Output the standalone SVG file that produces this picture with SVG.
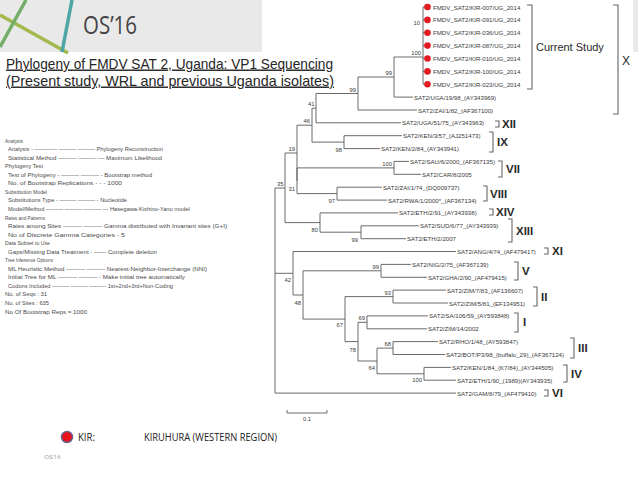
<svg xmlns="http://www.w3.org/2000/svg" width="638" height="479" viewBox="0 0 638 479">
<style>
.tip{font-family:"Liberation Sans",Arial,sans-serif;font-size:6.1px;fill:#3a3a3a;dominant-baseline:central}
.bs{font-family:"Liberation Sans",Arial,sans-serif;font-size:5.8px;fill:#3a3a3a;text-anchor:end}
.br{fill:none;stroke:#5a5a5a;stroke-width:0.9}
.brk{fill:none;stroke:#666;stroke-width:1.1}
.cl{font-family:"Liberation Sans",Arial,sans-serif;font-size:11.5px;font-weight:bold;fill:#2a2a2a;dominant-baseline:central}
.info{font-family:"Liberation Sans",Arial,sans-serif;font-size:6.2px;fill:#4a4a4a;dominant-baseline:central}
.dot{fill:#e31b23}
.ttl{font-family:"Liberation Sans",Arial,sans-serif;font-size:14.5px;fill:#262626;text-decoration:underline}
</style>
<rect x="0" y="0" width="638" height="479" fill="#ffffff"/>
<g id="header">
<rect x="0" y="0" width="262" height="52" fill="#e9e9e9"/>
<rect x="633" y="0" width="5" height="52" fill="#e9e9e9"/>
<line x1="0" y1="15" x2="68" y2="53" stroke="#a3b94e" stroke-width="3.5"/>
<line x1="0" y1="47" x2="26" y2="0" stroke="#74ad68" stroke-width="3.5"/>
<line x1="72" y1="0" x2="62" y2="52" stroke="#4ea7a5" stroke-width="3.5"/>
<text x="83" y="33.5" font-family="'Open Sans','Liberation Sans',sans-serif" font-size="25" fill="#444" textLength="54" lengthAdjust="spacingAndGlyphs">OS’16</text>
</g>
<g id="title">
<text class="ttl" x="6" y="68.5" textLength="327" lengthAdjust="spacingAndGlyphs">Phylogeny of FMDV SAT 2, Uganda: VP1 Sequencing</text>
<text class="ttl" x="6" y="85.5" textLength="328" lengthAdjust="spacingAndGlyphs">(Present study, WRL and previous Uganda isolates)</text>
</g>
<g id="analysis-info">
<text class="info" x="5" y="140" textLength="18" lengthAdjust="spacingAndGlyphs">Analysis</text>
<text class="info" x="8" y="148.5" textLength="155" lengthAdjust="spacingAndGlyphs">Analysis - ———— ——— ——— Phylogeny Reconstruction</text>
<text class="info" x="8" y="157.1" textLength="154" lengthAdjust="spacingAndGlyphs">Statistical Method ——— ——— — Maximum Likelihood</text>
<text class="info" x="5" y="165.6" textLength="38" lengthAdjust="spacingAndGlyphs">Phylogeny Test</text>
<text class="info" x="8" y="174.2" textLength="144" lengthAdjust="spacingAndGlyphs">Test of Phylogeny - ——— ——— - Bootstrap method</text>
<text class="info" x="8" y="182.7" textLength="114" lengthAdjust="spacingAndGlyphs">No. of Bootstrap Replications - - - 1000</text>
<text class="info" x="5" y="191.3" textLength="42" lengthAdjust="spacingAndGlyphs">Substitution Model</text>
<text class="info" x="8" y="199.8" textLength="119" lengthAdjust="spacingAndGlyphs">Substitutions Type - ——— ——— - Nucleotide</text>
<text class="info" x="8" y="208.4" textLength="182" lengthAdjust="spacingAndGlyphs">Model/Method ——— ——— ——— — Hasegawa-Kishino-Yano model</text>
<text class="info" x="5" y="217" textLength="40" lengthAdjust="spacingAndGlyphs">Rates and Patterns</text>
<text class="info" x="8" y="225.5" textLength="219" lengthAdjust="spacingAndGlyphs">Rates among Sites ——— ——— Gamma distributed with Invariant sites (G+I)</text>
<text class="info" x="8" y="234.1" textLength="117" lengthAdjust="spacingAndGlyphs">No of Discrete Gamma Categories - 5</text>
<text class="info" x="5" y="242.6" textLength="45" lengthAdjust="spacingAndGlyphs">Data Subset to Use</text>
<text class="info" x="8" y="251.2" textLength="149" lengthAdjust="spacingAndGlyphs">Gaps/Missing Data Treatment - —— Complete deletion</text>
<text class="info" x="5" y="259.7" textLength="48" lengthAdjust="spacingAndGlyphs">Tree Inference Options</text>
<text class="info" x="8" y="268.3" textLength="199" lengthAdjust="spacingAndGlyphs">ML Heuristic Method ——— ——— Nearest-Neighbor-Interchange (NNI)</text>
<text class="info" x="8" y="276.8" textLength="177" lengthAdjust="spacingAndGlyphs">Initial Tree for ML ——— ——— - Make initial tree automatically</text>
<text class="info" x="8" y="285.4" textLength="165" lengthAdjust="spacingAndGlyphs">Codons Included ——— ——— ——— 1st+2nd+3rd+Non-Coding</text>
<text class="info" x="5" y="293.9" textLength="42" lengthAdjust="spacingAndGlyphs">No. of Seqs : 31</text>
<text class="info" x="5" y="302.5" textLength="44" lengthAdjust="spacingAndGlyphs">No. of Sites : 635</text>
<text class="info" x="5" y="311" textLength="82" lengthAdjust="spacingAndGlyphs">No Of Bootstrap Reps = 1000</text>
</g>
<g id="connectors">
<path class="br" d="M394 57H423 M423 7V84.2 M423 7H427 M423 19.9H427 M423 32.7H427 M423 45.6H427 M423 58.5H427 M423 71.4H427 M423 84.2H427"/>
<path class="br" d="M358 77H394 M394 57V97.1 M394 97.1H413"/>
<path class="br" d="M316 93.5H358 M358 77V110 M358 110H417"/>
<path class="br" d="M312 108.2H316 M316 93.5V122.8 M316 122.8H401"/>
<path class="br" d="M297 125.2H312 M312 108.2V142.1 M312 142.1H344"/>
<path class="br" d="M344 135.7V148.6 M344 135.7H402 M344 148.6H380"/>
<path class="br" d="M285 153H297 M297 125.2V180.8"/>
<path class="br" d="M297 167.9V193.6 M297 167.9H394 M297 193.6H337"/>
<path class="br" d="M394 161.4V174.3 M394 161.4H409 M394 174.3H421"/>
<path class="br" d="M337 187.2V200.1 M337 187.2H382 M337 200.1H387"/>
<path class="br" d="M275 188H285 M285 153V222.6 M285 222.6H320"/>
<path class="br" d="M320 212.9V232.2 M320 212.9H398 M320 232.2H361"/>
<path class="br" d="M361 225.8V238.7 M361 225.8H419 M361 238.7H406"/>
<path class="br" d="M275 188V393.1 M275 393.1H456 M275 273.3H293"/>
<path class="br" d="M293 251.5V295 M293 251.5H456 M293 295H303"/>
<path class="br" d="M303 270.8V319.1 M303 270.8H381 M303 319.1H345"/>
<path class="br" d="M381 264.4V277.3 M381 264.4H411 M381 277.3H427"/>
<path class="br" d="M345 296.6V341.6 M345 296.6H393 M345 341.6H358"/>
<path class="br" d="M393 290.1V303 M393 290.1H446 M393 303H448"/>
<path class="br" d="M358 322.3V361 M358 322.3H367 M358 361H377"/>
<path class="br" d="M367 315.9V328.8 M367 315.9H428 M367 328.8H427"/>
<path class="br" d="M377 348.1V373.8 M377 348.1H393 M377 373.8H424"/>
<path class="br" d="M393 341.6V354.5 M393 341.6H438 M393 354.5H445"/>
<path class="br" d="M424 367.4V380.2 M424 367.4H451 M424 380.2H456"/>
</g>
<g id="bootstrap">
<text class="bs" x="420" y="25">10</text>
<text class="bs" x="421" y="54.5">100</text>
<text class="bs" x="392" y="75">99</text>
<text class="bs" x="356" y="91.5">99</text>
<text class="bs" x="314.5" y="106">41</text>
<text class="bs" x="310" y="123">46</text>
<text class="bs" x="342" y="152">98</text>
<text class="bs" x="295" y="151">19</text>
<text class="bs" x="392" y="165.5">100</text>
<text class="bs" x="295" y="191">31</text>
<text class="bs" x="335" y="203">97</text>
<text class="bs" x="283.5" y="186">35</text>
<text class="bs" x="318" y="232">80</text>
<text class="bs" x="358" y="242">99</text>
<text class="bs" x="291" y="282">42</text>
<text class="bs" x="301" y="305">48</text>
<text class="bs" x="379" y="269">99</text>
<text class="bs" x="391" y="294.5">93</text>
<text class="bs" x="343" y="327">67</text>
<text class="bs" x="365" y="320">69</text>
<text class="bs" x="356" y="352">78</text>
<text class="bs" x="391" y="346">68</text>
<text class="bs" x="375" y="370">64</text>
<text class="bs" x="422" y="382">100</text>
</g>
<g id="tip-KIR-007"><circle class="dot" cx="427.5" cy="7" r="3.3"/><text class="tip" x="433" y="7">FMDV_SAT2/KIR-007/UG_2014</text></g>
<g id="tip-KIR-091"><circle class="dot" cx="427.5" cy="19.9" r="3.3"/><text class="tip" x="433" y="19.9">FMDV_SAT2/KIR-091/UG_2014</text></g>
<g id="tip-KIR-036"><circle class="dot" cx="427.5" cy="32.7" r="3.3"/><text class="tip" x="433" y="32.7">FMDV_SAT2/KIR-036/UG_2014</text></g>
<g id="tip-KIR-087"><circle class="dot" cx="427.5" cy="45.6" r="3.3"/><text class="tip" x="433" y="45.6">FMDV_SAT2/KIR-087/UG_2014</text></g>
<g id="tip-KIR-010"><circle class="dot" cx="427.5" cy="58.5" r="3.3"/><text class="tip" x="433" y="58.5">FMDV_SAT2/KIR-010/UG_2014</text></g>
<g id="tip-KIR-100"><circle class="dot" cx="427.5" cy="71.4" r="3.3"/><text class="tip" x="433" y="71.4">FMDV_SAT2/KIR-100/UG_2014</text></g>
<g id="tip-KIR-023"><circle class="dot" cx="427.5" cy="84.2" r="3.3"/><text class="tip" x="433" y="84.2">FMDV_SAT2/KIR-023/UG_2014</text></g>
<g id="tip-UGA-19-98"><text class="tip" x="414" y="97.1">SAT2/UGA/19/98_(AY343969)</text></g>
<g id="tip-ZAI-1-82"><text class="tip" x="418" y="110">SAT2/ZAI/1/82_(AF367100)</text></g>
<g id="tip-UGA-51-75"><text class="tip" x="402" y="122.8">SAT2/UGA/51/75_(AY343963)</text></g>
<g id="tip-KEN-3-57"><text class="tip" x="403" y="135.7">SAT2/KEN/3/57_(AJ251473)</text></g>
<g id="tip-KEN-2-84"><text class="tip" x="381" y="148.6">SAT2/KEN/2/84_(AY343941)</text></g>
<g id="tip-SAU-6-2000"><text class="tip" x="410" y="161.4">SAT2/SAU/6/2000_(AF367135)</text></g>
<g id="tip-CAR-8-2005"><text class="tip" x="422" y="174.3">SAT2/CAR/8/2005</text></g>
<g id="tip-ZAI-1-74"><text class="tip" x="383" y="187.2">SAT2/ZAI/1/74_(DQ009737)</text></g>
<g id="tip-RWA-1-2000"><text class="tip" x="388" y="200.1">SAT2/RWA/1/2000*_(AF367134)</text></g>
<g id="tip-ETH-2-91"><text class="tip" x="399" y="212.9">SAT2/ETH/2/91_(AY343938)</text></g>
<g id="tip-SUD-6-77"><text class="tip" x="420" y="225.8">SAT2/SUD/6/77_(AY343939)</text></g>
<g id="tip-ETH-2-2007"><text class="tip" x="407" y="238.7">SAT2/ETH/2/2007</text></g>
<g id="tip-ANG-4-74"><text class="tip" x="457" y="251.5">SAT2/ANG/4/74_(AF479417)</text></g>
<g id="tip-NIG-2-75"><text class="tip" x="412" y="264.4">SAT2/NIG/2/75_(AF367139)</text></g>
<g id="tip-GHA-2-90"><text class="tip" x="428" y="277.3">SAT2/GHA/2/90_(AF479415)</text></g>
<g id="tip-ZIM-7-83"><text class="tip" x="447" y="290.1">SAT2/ZIM/7/83_(AF136607)</text></g>
<g id="tip-ZIM-5-81"><text class="tip" x="449" y="303">SAT2/ZIM/5/81_(EF134951)</text></g>
<g id="tip-SA-106-59"><text class="tip" x="429" y="315.9">SAT2/SA/106/59_(AY593848)</text></g>
<g id="tip-ZIM-14-2002"><text class="tip" x="428" y="328.8">SAT2/ZIM/14/2002</text></g>
<g id="tip-RHO-1-48"><text class="tip" x="439" y="341.6">SAT2/RHO/1/48_(AY593847)</text></g>
<g id="tip-BOT-P3-98"><text class="tip" x="446" y="354.5">SAT2/BOT/P3/98_(buffalo_29)_(AF367124)</text></g>
<g id="tip-KEN-1-84"><text class="tip" x="452" y="367.4">SAT2/KEN/1/84_(K7/84)_(AY344505)</text></g>
<g id="tip-ETH-1-90"><text class="tip" x="457" y="380.2">SAT2/ETH/1/90_(1989)(AY343935)</text></g>
<g id="tip-GAM-8-79"><text class="tip" x="457" y="393.1">SAT2/GAM/8/79_(AF479410)</text></g>
<g id="clade-current-study"><path class="brk" d="M527 5H532V89H527"/><text x="536" y="47" font-family="'Liberation Sans',Arial,sans-serif" font-size="11" fill="#2a2a2a" dominant-baseline="central">Current Study</text></g>
<g id="clade-X"><path class="brk" d="M613 5H618V114H613"/><text x="622" y="61" font-family="'Liberation Sans',Arial,sans-serif" font-size="12" fill="#2a2a2a" dominant-baseline="central">X</text></g>
<g id="clade-XII"><path class="brk" d="M495 121H499V127H495"/><text class="cl" x="502" y="124">XII</text></g>
<g id="clade-IX"><path class="brk" d="M489 132H493V152H489"/><text class="cl" x="497" y="142">IX</text></g>
<g id="clade-VII"><path class="brk" d="M498 161H502V177H498"/><text class="cl" x="506" y="169">VII</text></g>
<g id="clade-VIII"><path class="brk" d="M483 186H487V201H483"/><text class="cl" x="490" y="194">VIII</text></g>
<g id="clade-XIV"><path class="brk" d="M489 209H493V215H489"/><text class="cl" x="496" y="212">XIV</text></g>
<g id="clade-XIII"><path class="brk" d="M508 219H512V242H508"/><text class="cl" x="516" y="231">XIII</text></g>
<g id="clade-XI"><path class="brk" d="M544 248H548V254H544"/><text class="cl" x="552" y="251">XI</text></g>
<g id="clade-V"><path class="brk" d="M514 262H518V280H514"/><text class="cl" x="522" y="271">V</text></g>
<g id="clade-II"><path class="brk" d="M533 287H537V306H533"/><text class="cl" x="541" y="297">II</text></g>
<g id="clade-I"><path class="brk" d="M514 313H518V332H514"/><text class="cl" x="523" y="322">I</text></g>
<g id="clade-III"><path class="brk" d="M570 338H574V358H570"/><text class="cl" x="578" y="348">III</text></g>
<g id="clade-IV"><path class="brk" d="M563 365H567V382H563"/><text class="cl" x="571" y="374">IV</text></g>
<g id="clade-VI"><path class="brk" d="M544 390H548V396H544"/><text class="cl" x="552" y="393">VI</text></g>
<g id="scale-bar">
<path class="br" d="M287 410V413H327V410"/>
<text x="307" y="420.5" font-family="'Liberation Sans',Arial,sans-serif" font-size="5.8" fill="#3a3a3a" text-anchor="middle">0.1</text>
</g>
<g id="legend">
<circle cx="67" cy="437" r="5.5" fill="#e8101a" stroke="#6b5f8f" stroke-width="1.5"/>
<text x="78" y="440.5" font-family="'Open Sans','Liberation Sans',sans-serif" font-size="10" fill="#222" textLength="17" lengthAdjust="spacingAndGlyphs">KIR:</text>
<text x="144" y="440.5" font-family="'Open Sans','Liberation Sans',sans-serif" font-size="10" fill="#222" textLength="133" lengthAdjust="spacingAndGlyphs">KIRUHURA (WESTERN REGION)</text>
<text x="44" y="459" font-family="'Open Sans','Liberation Sans',sans-serif" font-size="5.5" fill="#999" textLength="17" lengthAdjust="spacingAndGlyphs">OS16</text>
</g>
</svg>
